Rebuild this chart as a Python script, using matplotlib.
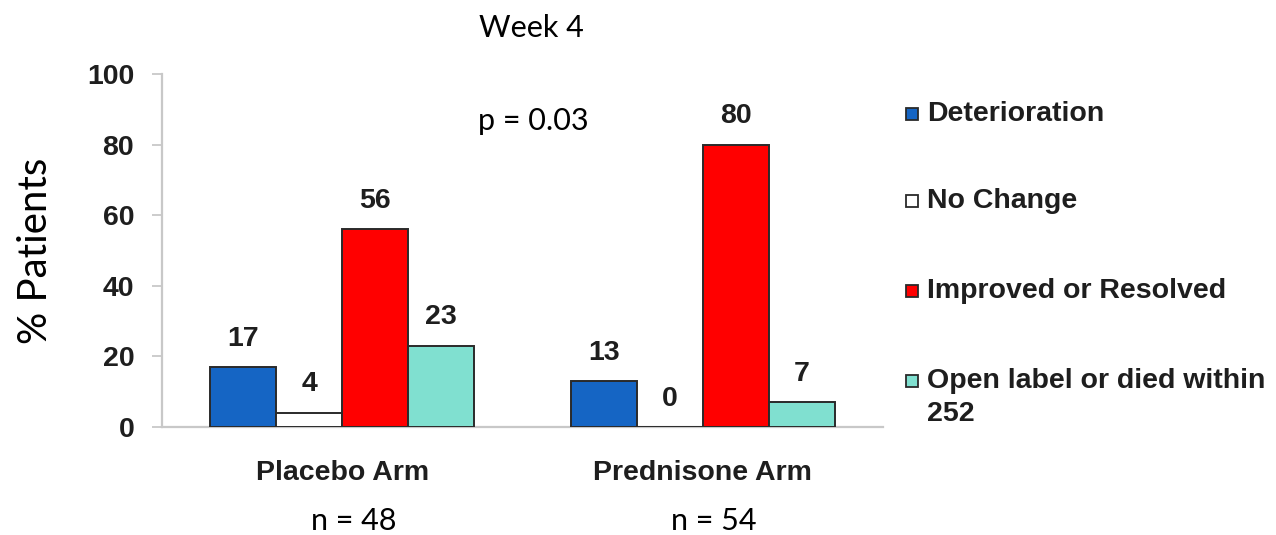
import matplotlib
matplotlib.use("Agg")
import matplotlib.pyplot as plt
from matplotlib.patches import Rectangle
import numpy as np

# Data
arms = ["Placebo Arm", "Prednisone Arm"]
arm_n = ["n = 48", "n = 54"]
outcomes = ["Deterioration", "No Change", "Improved or Resolved",
            "Open label or died within\n252"]
placebo = [17, 4, 56, 23]
prednisone = [13, 0, 80, 7]
yticks = [0, 20, 40, 60, 80, 100]

colors = ["#1565c4", "#ffffff", "#ff0000", "#80e0d0"]
edge = "#2a2a2a"
ink = "#1e1e1e"
bold_font = "Liberation Sans"
light_font = "Lato"
bold_size = 20.5
light_size = 22

W, H = 1276, 535
fig = plt.figure(figsize=(W / 100, H / 100), dpi=100)
ax = fig.add_axes([162 / W, 1 - 427 / H, 721 / W, 353 / H])

values = np.array([placebo, prednisone])
x = np.arange(len(arms))
width = 0.183
offsets = (np.arange(len(outcomes)) - 1.5) * width

for i, (name, col) in enumerate(zip(outcomes, colors)):
    bars = ax.bar(x + offsets[i], values[:, i], width, color=col,
                  edgecolor=edge, linewidth=1.4, label=name, zorder=3)
    for b, v in zip(bars, values[:, i]):
        ax.annotate(f"{v}", (b.get_x() + b.get_width() / 2, v),
                    xytext=(0, 20.5), textcoords="offset points",
                    ha="center", va="center", fontsize=bold_size,
                    fontweight="bold", family=bold_font, color=ink)

ax.set_xlim(-0.5, 1.5)
ax.set_ylim(0, 100)
ax.set_yticks(yticks)
ax.set_yticklabels([str(t) for t in yticks], fontsize=bold_size,
                   fontweight="bold", family=bold_font, color=ink)
ax.set_xticks(x)
ax.set_xticklabels(arms, fontsize=bold_size, fontweight="bold",
                   family=bold_font, color=ink)
ax.tick_params(axis="x", length=0, pad=24)
ax.tick_params(axis="y", length=7, width=1.3, color="#c8c8c8", pad=13)

for s in ["top", "right"]:
    ax.spines[s].set_visible(False)
for s in ["left", "bottom"]:
    ax.spines[s].set_color("#c8c8c8")
    ax.spines[s].set_linewidth(1.6)

ax.set_ylabel("% Patients", fontsize=29, family=light_font,
              va="center", color="black")
ax.yaxis.set_label_coords(-0.175, 0.5)

# Group sizes under the arm names
for xi, n in zip(x, arm_n):
    ax.annotate(n, (xi, 0), xycoords=("data", "axes fraction"),
                xytext=(8, -68), textcoords="offset points",
                ha="center", va="center", fontsize=light_size,
                family=light_font)

fig.text(531 / W, 1 - 28 / H, "Week 4", ha="center", va="center",
         fontsize=light_size, family=light_font)
fig.text(533 / W, 1 - 121 / H, "p = 0.03", ha="center", va="center",
         fontsize=light_size, family=light_font)

# Legend: colour swatch and label per outcome
row_y = [114, 201, 291, 381]
sq = 12
for col, name, yy in zip(colors, outcomes, row_y):
    fig.patches.append(Rectangle(((906) / W, 1 - (yy + sq / 2) / H),
                                 sq / W, sq / H, transform=fig.transFigure,
                                 facecolor=col, edgecolor=edge, linewidth=1.3))
    lines = name.split("\n")
    for k, line in enumerate(lines):
        fig.text(927 / W, 1 - (yy + 33 * k) / H, line, ha="left",
                 va="center", fontsize=bold_size, fontweight="bold",
                 family=bold_font, color=ink)

fig.savefig("out.png", dpi=100, facecolor="white")
